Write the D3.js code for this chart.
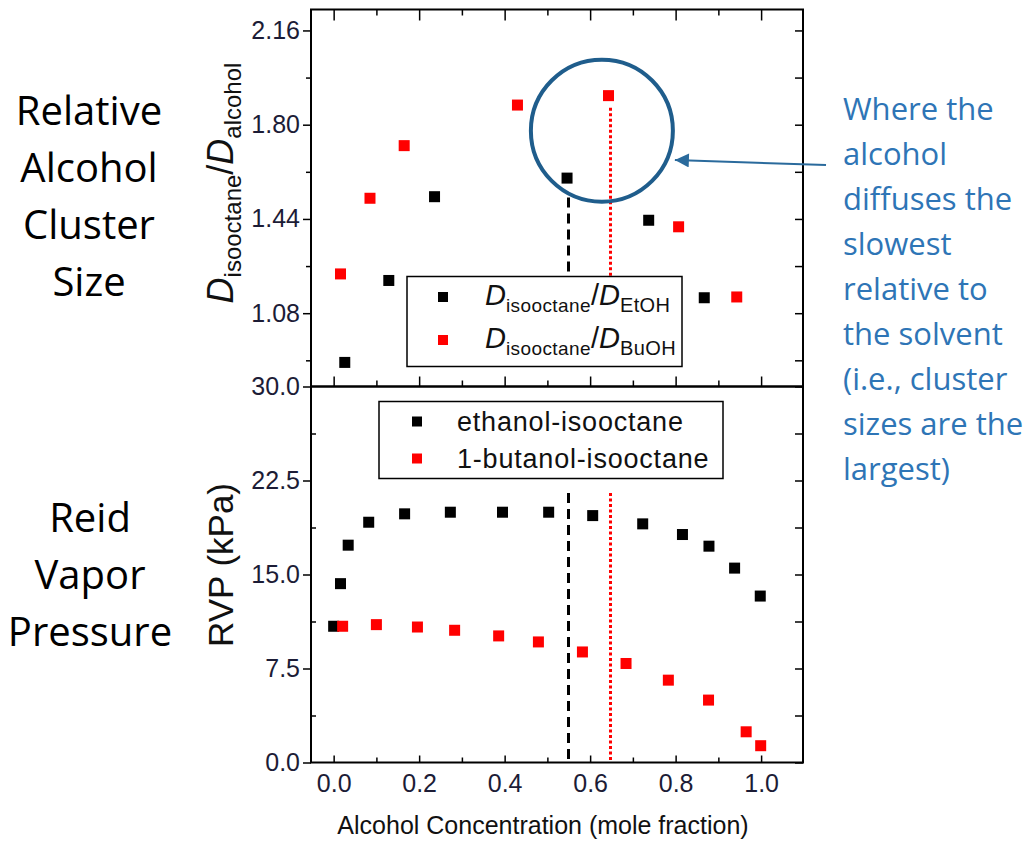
<!DOCTYPE html>
<html>
<head>
<meta charset="utf-8">
<script src="https://cdn.jsdelivr.net/npm/d3@7"></script>
<style>
  body { margin: 0; background: #fff; }
  svg text { font-family: "Liberation Sans", Arial, sans-serif; }
</style>
</head>
<body>
<div id="chart"></div>
<script>
// ---- data ----
// top panel: D_isooctane / D_alcohol
var etohXTop = [0.026, 0.129, 0.236, 0.546, 0.737, 0.867];
var etohRatio = [0.892, 1.205, 1.525, 1.596, 1.435, 1.139];
var buohXTop = [0.016, 0.085, 0.165, 0.430, 0.643, 0.807, 0.943];
var buohRatio = [1.230, 1.519, 1.720, 1.875, 1.911, 1.410, 1.142];

// bottom panel: Reid vapor pressure (kPa)
var etohXRvp = [0.0, 0.016, 0.034, 0.082, 0.166, 0.273, 0.395, 0.503, 0.606, 0.723, 0.816, 0.878, 0.938, 0.998];
var etohRvp = [10.87, 14.27, 17.34, 19.17, 19.84, 19.97, 19.97, 19.97, 19.70, 19.04, 18.19, 17.26, 15.51, 13.28];
var buohXRvp = [0.021, 0.100, 0.196, 0.283, 0.386, 0.479, 0.582, 0.684, 0.783, 0.877, 0.965, 0.999];
var buohRvp = [10.87, 11.00, 10.81, 10.55, 10.10, 9.62, 8.82, 7.90, 6.57, 4.98, 2.45, 1.34];

// markers for the maxima
var peakX = [0.549, 0.647];           // EtOH, BuOH
var peakTopFrom = [1.522, 1.865];     // line start in the top panel
var peakTopTo = 1.222;                // lines end at the legend
var peakRvpFrom = 21.5;

var xTicks = [0, 0.2, 0.4, 0.6, 0.8, 1.0];
var xMinor = [0.1, 0.3, 0.5, 0.7, 0.9];
var topTicks = [1.08, 1.44, 1.80, 2.16];
var topMinor = [0.90, 1.26, 1.62, 1.98];
var rvpTicks = [0, 7.5, 15, 22.5, 30];
var rvpMinor = [3.75, 11.25, 18.75, 26.25];

var sideLabelTop = ["Relative", "Alcohol", "Cluster", "Size"];
var sideLabelBottom = ["Reid", "Vapor", "Pressure"];
var note = ["Where the", "alcohol", "diffuses the", "slowest", "relative to",
            "the solvent", "(i.e., cluster", "sizes are the", "largest)"];

// ---- layout ----
var W = 1031, H = 842;
var pL = 311, pR = 803, pT = 9.5, pM = 386.5, pB = 762.5;

var svg = d3.select("#chart").append("svg")
  .attr("width", W).attr("height", H);

var x = d3.scaleLinear().domain([-0.053, 1.098]).range([pL, pR]);
var yTop = d3.scaleLinear().domain([0.80, 2.24]).range([pM, pT]);
var yRvp = d3.scaleLinear().domain([0, 30]).range([pB, pM]);

function zip(a, b) { return a.map(function(v, i) { return [v, b[i]]; }); }

var labColor = "#1c1c36";

function ticksOnly(g) {
  g.select(".domain").remove();
  g.selectAll(".tick line").attr("stroke", "#000").attr("stroke-width", 1.5);
}

// top panel axes
svg.append("g").attr("transform", "translate(" + pL + ",0)")
  .call(d3.axisLeft(yTop).tickValues(topTicks).tickSize(8).tickPadding(3).tickFormat(d3.format(".2f")))
  .call(ticksOnly)
  .selectAll("text").attr("font-size", 25).attr("fill", labColor);
svg.append("g").attr("transform", "translate(" + pL + ",0)")
  .call(d3.axisLeft(yTop).tickValues(topMinor).tickSize(5).tickFormat(""))
  .call(ticksOnly);
svg.append("g").attr("transform", "translate(" + pR + ",0)")
  .call(d3.axisRight(yTop).tickValues(topTicks.concat(topMinor)).tickSize(-8).tickFormat(""))
  .call(ticksOnly);
svg.append("g").attr("transform", "translate(0," + pT + ")")
  .call(d3.axisTop(x).tickValues(xTicks).tickSize(-11).tickFormat(""))
  .call(ticksOnly);
svg.append("g").attr("transform", "translate(0," + pT + ")")
  .call(d3.axisTop(x).tickValues(xMinor).tickSize(-6).tickFormat(""))
  .call(ticksOnly);
svg.append("g").attr("transform", "translate(0," + pM + ")")
  .call(d3.axisBottom(x).tickValues(xTicks).tickSize(-10).tickFormat(""))
  .call(ticksOnly);
svg.append("g").attr("transform", "translate(0," + pM + ")")
  .call(d3.axisBottom(x).tickValues(xMinor).tickSize(-6).tickFormat(""))
  .call(ticksOnly);

// bottom panel axes
svg.append("g").attr("transform", "translate(" + pL + ",0)")
  .call(d3.axisLeft(yRvp).tickValues(rvpTicks).tickSize(8).tickPadding(3).tickFormat(d3.format(".1f")))
  .call(ticksOnly)
  .selectAll("text").attr("font-size", 25).attr("fill", labColor);
svg.append("g").attr("transform", "translate(" + pL + ",0)")
  .call(d3.axisLeft(yRvp).tickValues(rvpMinor).tickSize(-5).tickFormat(""))
  .call(ticksOnly);
svg.append("g").attr("transform", "translate(" + pR + ",0)")
  .call(d3.axisRight(yRvp).tickValues(rvpTicks.concat(rvpMinor)).tickSize(-8).tickFormat(""))
  .call(ticksOnly);
svg.append("g").attr("transform", "translate(0," + pB + ")")
  .call(d3.axisBottom(x).tickValues(xTicks).tickSize(-7).tickPadding(12).tickFormat(d3.format(".1f")))
  .call(ticksOnly)
  .selectAll("text").attr("font-size", 25).attr("fill", labColor);
svg.append("g").attr("transform", "translate(0," + pB + ")")
  .call(d3.axisBottom(x).tickValues(xMinor).tickSize(-5).tickFormat(""))
  .call(ticksOnly);

// vertical guide lines at the maxima
var guides = svg.append("g");
function guide(xv, y1, y2, dashed) {
  guides.append("line")
    .attr("x1", Math.round(x(xv)) + 0.5).attr("x2", Math.round(x(xv)) + 0.5).attr("y1", y1).attr("y2", y2)
    .attr("stroke", dashed ? "#000" : "#ff0000")
    .attr("stroke-width", 3)
    .attr("stroke-dasharray", dashed ? "10,6" : "3,2.5");
}
guide(peakX[0], yTop(peakTopFrom[0]), yTop(peakTopTo), true);
guide(peakX[1], yTop(peakTopFrom[1]), yTop(peakTopTo), false);
guide(peakX[0], yRvp(peakRvpFrom), yRvp(0), true);
guide(peakX[1], yRvp(peakRvpFrom), yRvp(0), false);

// points
var s = 11;
function squares(data, yS, color) {
  svg.append("g").selectAll("rect").data(data).enter().append("rect")
    .attr("x", function(d) { return x(d[0]) - s / 2; })
    .attr("y", function(d) { return yS(d[1]) - s / 2; })
    .attr("width", s).attr("height", s)
    .attr("fill", color);
}
squares(zip(etohXTop, etohRatio), yTop, "#000");
squares(zip(buohXTop, buohRatio), yTop, "#ff0000");
squares(zip(etohXRvp, etohRvp), yRvp, "#000");
squares(zip(buohXRvp, buohRvp), yRvp, "#ff0000");

// frames
svg.append("rect").attr("x", pL).attr("y", pT).attr("width", pR - pL).attr("height", pM - pT)
  .attr("fill", "none").attr("stroke", "#000").attr("stroke-width", 2);
svg.append("rect").attr("x", pL).attr("y", pM).attr("width", pR - pL).attr("height", pB - pM)
  .attr("fill", "none").attr("stroke", "#000").attr("stroke-width", 2);

// top legend
var lg1 = svg.append("g");
lg1.append("rect").attr("x", 407).attr("y", 276.5).attr("width", 275).attr("height", 90)
  .attr("fill", "#fff").attr("stroke", "#000").attr("stroke-width", 1.5);
var legTop = [["EtOH", "#000"], ["BuOH", "#ff0000"]];
legTop.forEach(function(d, i) {
  var yy = 297 + i * 43;
  lg1.append("rect").attr("x", 443 - 5).attr("y", yy - 5).attr("width", 10).attr("height", 10).attr("fill", d[1]);
  var t = lg1.append("text").attr("x", 485).attr("y", yy + 8).attr("font-size", 29).attr("fill", "#111");
  t.append("tspan").attr("font-style", "italic").text("D");
  t.append("tspan").attr("font-size", 19).attr("dy", 7).attr("letter-spacing", 0.4).text("isooctane");
  t.append("tspan").attr("dy", -7).text("/");
  t.append("tspan").attr("font-style", "italic").text("D");
  t.append("tspan").attr("font-size", 20).attr("dy", 7).attr("letter-spacing", 0.4).text(d[0]);
});

// bottom legend
var lg2 = svg.append("g");
lg2.append("rect").attr("x", 379).attr("y", 401.5).attr("width", 344).attr("height", 77)
  .attr("fill", "#fff").attr("stroke", "#000").attr("stroke-width", 1.5);
var legBottom = [["ethanol-isooctane", "#000"], ["1-butanol-isooctane", "#ff0000"]];
legBottom.forEach(function(d, i) {
  var yy = 421.5 + i * 37;
  lg2.append("rect").attr("x", 417 - 5).attr("y", yy - 5).attr("width", 10).attr("height", 10).attr("fill", d[1]);
  lg2.append("text").attr("x", 457).attr("y", yy + 9).attr("font-size", 27)
    .attr("letter-spacing", 0.8).attr("fill", "#111").text(d[0]);
});

// axis titles
var yt = svg.append("text").attr("transform", "translate(233,183) rotate(-90)")
  .attr("text-anchor", "middle").attr("font-size", 36).attr("fill", "#111");
yt.append("tspan").attr("font-style", "italic").text("D");
yt.append("tspan").attr("font-size", 24).attr("dy", 8).text("isooctane");
yt.append("tspan").attr("dy", -8).text("/");
yt.append("tspan").attr("font-style", "italic").text("D");
yt.append("tspan").attr("font-size", 24).attr("dy", 8).text("alcohol");

svg.append("text").attr("transform", "translate(233,565) rotate(-90)")
  .attr("text-anchor", "middle").attr("font-size", 35).attr("fill", "#111").text("RVP (kPa)");

svg.append("text").attr("x", 543).attr("y", 834).attr("text-anchor", "middle")
  .attr("font-size", 25).attr("fill", "#111").text("Alcohol Concentration (mole fraction)");

// side labels
svg.append("g").selectAll("text").data(sideLabelTop).enter().append("text")
  .attr("x", 89).attr("y", function(d, i) { return 125 + i * 57; })
  .attr("text-anchor", "middle").attr("font-size", 40)
  .style("font-family", "'Open Sans', sans-serif").attr("fill", "#000").text(function(d) { return d; });
svg.append("g").selectAll("text").data(sideLabelBottom).enter().append("text")
  .attr("x", 90).attr("y", function(d, i) { return 532 + i * 57; })
  .attr("text-anchor", "middle").attr("font-size", 40)
  .style("font-family", "'Open Sans', sans-serif").attr("fill", "#000").text(function(d) { return d; });

// highlight circle + arrow + note
var cx = x(0.6275), cy = yTop(1.777), r = 71;
svg.append("circle").attr("cx", cx).attr("cy", cy).attr("r", r)
  .attr("fill", "none").attr("stroke", "#1f5d8c").attr("stroke-width", 4);

svg.append("defs").append("marker").attr("id", "ah")
  .attr("viewBox", "0 0 10 10").attr("refX", 10).attr("refY", 5)
  .attr("markerWidth", 8).attr("markerHeight", 7).attr("markerUnits", "strokeWidth")
  .attr("orient", "auto")
  .append("path").attr("d", "M0,0 L10,5 L0,10 Z").attr("fill", "#2a6a9c");
svg.append("line").attr("x1", 826).attr("y1", 165).attr("x2", cx + r + 2).attr("y2", 160)
  .attr("stroke", "#2a6a9c").attr("stroke-width", 2).attr("marker-end", "url(#ah)");

svg.append("g").selectAll("text").data(note).enter().append("text")
  .attr("x", 843).attr("y", function(d, i) { return 120 + i * 45; })
  .attr("font-size", 31).style("font-family", "'Open Sans', sans-serif")
  .attr("fill", "#2e75b6").text(function(d) { return d; });
</script>
</body>
</html>
